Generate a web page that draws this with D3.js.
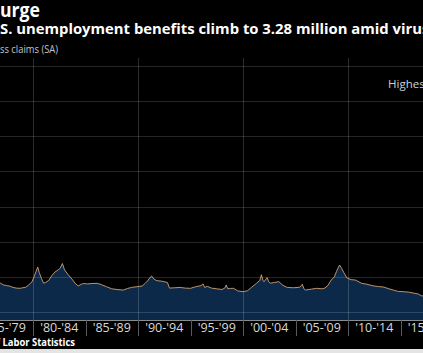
<!DOCTYPE html>
<html>
<head>
<meta charset="utf-8">
<script src="https://cdn.jsdelivr.net/npm/d3@7"></script>
<style>
  html, body { margin: 0; padding: 0; background: #000; }
  svg { display: block; }
</style>
</head>
<body>
<svg id="chart" width="423" height="353"></svg>
<script>
// ---------- data (weekly initial jobless claims, thousands) ----------
const years = [
  1976.5, 1976.9, 1977.2, 1977.5, 1977.8, 1978.1, 1978.4, 1978.8, 1979.0, 1979.3,
  1979.6, 1979.9, 1980.1, 1980.3, 1980.45, 1980.6, 1980.8, 1981.0, 1981.2, 1981.5,
  1981.8, 1982.1, 1982.4, 1982.6, 1982.8, 1983.0, 1983.3, 1983.7, 1984.0, 1984.3,
  1984.6, 1984.8, 1985.2, 1985.6, 1986.1, 1986.5, 1987.0, 1987.5, 1988.0, 1988.6,
  1989.0, 1989.4, 1989.9, 1990.4, 1990.7, 1990.9, 1991.2, 1991.3, 1991.5, 1991.8,
  1992.2, 1992.5, 1992.8, 1993.0, 1993.5, 1994.0, 1994.5, 1995.0, 1995.5, 1996.0,
  1996.2, 1996.35, 1996.6, 1997.0, 1997.5, 1998.0, 1998.3, 1998.4, 1998.55, 1998.8,
  1999.1, 1999.5, 2000.0, 2000.4, 2000.8, 2001.3, 2001.6, 2001.75, 2001.9, 2002.0,
  2002.2, 2002.3, 2002.45, 2002.6, 2003.0, 2003.4, 2003.8, 2004.2, 2004.8, 2005.4,
  2005.65, 2005.8, 2005.95, 2006.5, 2007.0, 2007.5, 2007.8, 2008.1, 2008.4, 2008.7,
  2008.9, 2009.1, 2009.2, 2009.4, 2009.6, 2009.9, 2010.3, 2010.7, 2011.3, 2011.8,
  2012.4, 2012.9, 2013.4, 2013.9, 2014.3, 2014.8, 2015.3, 2015.8, 2016.3, 2016.7,
  2017.0, 2017.4
];
const claims = [
  400, 410, 385, 375, 368, 350, 340, 337, 345, 352,
  385, 430, 500, 580, 640, 560, 480, 410, 420, 450,
  520, 570, 600, 625, 690, 600, 540, 470, 410, 370,
  395, 405, 400, 405, 408, 390, 360, 330, 320, 312,
  335, 350, 360, 370, 410, 440, 500, 512, 470, 445,
  440, 430, 420, 340, 345, 350, 340, 337, 360, 375,
  400, 350, 365, 340, 330, 320, 345, 385, 330, 335,
  337, 300, 289, 300, 350, 410, 450, 530, 450, 430,
  470, 490, 430, 410, 420, 432, 380, 350, 345, 352,
  395, 330, 313, 325, 337, 330, 340, 380, 455, 500,
  575, 640, 668, 620, 560, 484, 460, 455, 408, 395,
  372, 362, 355, 330, 313, 292, 289, 282, 268, 255,
  230, 228
];
const yTicks = [0, 500, 1000, 1500, 2000, 2500, 3000, 3500];   // thousands
const decadeLines = [1980, 1990, 2000, 2010];
const periodStarts = [1975, 1980, 1985, 1990, 1995, 2000, 2005, 2010, 2015];
const periodLabels = ["'75-'79", "'80-'84", "'85-'89", "'90-'94", "'95-'99", "'00-'04", "'05-'09", "'10-'14", "'15-'19"];

const titleText = "Surge";
const subtitleText = "U.S. unemployment benefits climb to 3.28 million amid virus";
const unitText = "Initial jobless claims (SA)";
const noteText = "Highest on record";
const sourceText = "Source: Bureau of Labor Statistics";

// ---------- layout ----------
const W = 423, H = 353;
const plotTop = 58, plotBottom = 320;
const svg = d3.select("#chart");
const FONT = "'Open Sans', 'Noto Sans', sans-serif";

svg.append("rect").attr("width", W).attr("height", H).attr("fill", "#000");

const x = d3.scaleLinear().domain([1980, 2010]).range([33, 348]);
const y = d3.scaleLinear().domain([0, 3500]).range([312, 66]);

const data = years.map((yr, i) => ({ yr, v: claims[i] }));

// area
const area = d3.area()
  .x(d => x(d.yr))
  .y0(plotBottom)
  .y1(d => y(d.v))
  .curve(d3.curveLinear);
svg.append("path").datum(data).attr("d", area).attr("fill", "#0c2949");

// horizontal grid
svg.append("g").selectAll("line").data(yTicks).join("line")
  .attr("x1", 0).attr("x2", W)
  .attr("y1", d => Math.round(y(d)) + 0.5).attr("y2", d => Math.round(y(d)) + 0.5)
  .attr("stroke", "rgba(255,255,255,0.15)").attr("stroke-width", 1);

// vertical grid (decades)
svg.append("g").selectAll("line").data(decadeLines).join("line")
  .attr("x1", d => Math.round(x(d)) + 0.5).attr("x2", d => Math.round(x(d)) + 0.5)
  .attr("y1", plotTop).attr("y2", plotBottom)
  .attr("stroke", "rgba(255,255,255,0.17)").attr("stroke-width", 1);

// line
const line = d3.line().x(d => x(d.yr)).y(d => y(d.v));
svg.append("path").datum(data).attr("d", line)
  .attr("fill", "none").attr("stroke", "#d0a070").attr("stroke-width", 0.9);

// x axis band
svg.append("line").attr("x1", 0).attr("x2", W)
  .attr("y1", plotBottom + 0.5).attr("y2", plotBottom + 0.5)
  .attr("stroke", "#8c8c8c").attr("stroke-width", 1);

svg.append("g").selectAll("line").data(periodStarts).join("line")
  .attr("x1", d => Math.round(x(d)) + 0.5).attr("x2", d => Math.round(x(d)) + 0.5)
  .attr("y1", plotBottom).attr("y2", plotBottom + 16)
  .attr("stroke", "#5a5a5a").attr("stroke-width", 1);

svg.append("g").selectAll("text").data(periodStarts).join("text")
  .attr("x", d => x(d + 2.5))
  .attr("y", 332)
  .attr("text-anchor", "middle")
  .attr("font-family", FONT)
  .attr("font-size", 12.5)
  .attr("fill", "#d8d8d8")
  .text((d, i) => periodLabels[i]);

// helper: place text at a fixed font size, compressed horizontally so that the
// visible span [prefix end .. visibleEnd end] fits [left, right]; the prefix lies left of the edge
function placeCropped(textStr, prefix, visibleEnd, left, right, baseline, fs, weight, color) {
  const probe = svg.append("text").attr("font-family", FONT).attr("font-weight", weight)
    .attr("font-size", fs).attr("visibility", "hidden");
  const wPre = probe.text(prefix).node().getComputedTextLength();
  const wEnd = probe.text(visibleEnd).node().getComputedTextLength();
  const wAll = probe.text(textStr).node().getComputedTextLength();
  probe.remove();
  const sx = (right - left) / (wEnd - wPre);
  svg.append("text")
    .attr("x", left - wPre * sx)
    .attr("y", baseline)
    .attr("font-family", FONT).attr("font-weight", weight)
    .attr("font-size", fs).attr("fill", color)
    .attr("textLength", wAll * sx).attr("lengthAdjust", "spacingAndGlyphs")
    .text(textStr);
}

placeCropped(titleText, "S", "Surge", 0, 40, 16.5, 19.5, "bold", "#ffffff");
placeCropped(subtitleText, "U.", "U.S. unemployment benefits climb to 3.28 million amid viru", 0, 422, 33.5, 15, "bold", "#ffffff");
placeCropped(unitText, "Initial jobless cla".slice(0, 13), "Initial jobless claims (SA)", 0, 58, 53, 10.5, "normal", "#c4c4c4");
placeCropped(sourceText, "Source: Bureau of ", "Source: Bureau of Labor Statistics", 0, 75, 345.5, 10.5, "bold", "#ffffff");

svg.append("text").attr("x", 388).attr("y", 88)
  .attr("font-family", FONT).attr("font-size", 11.5).attr("fill", "#d0d0d0")
  .text(noteText);

// bottom light strip
svg.append("rect").attr("x", 0).attr("y", 349).attr("width", W).attr("height", 4).attr("fill", "#e4e4e4");
</script>
</body>
</html>
